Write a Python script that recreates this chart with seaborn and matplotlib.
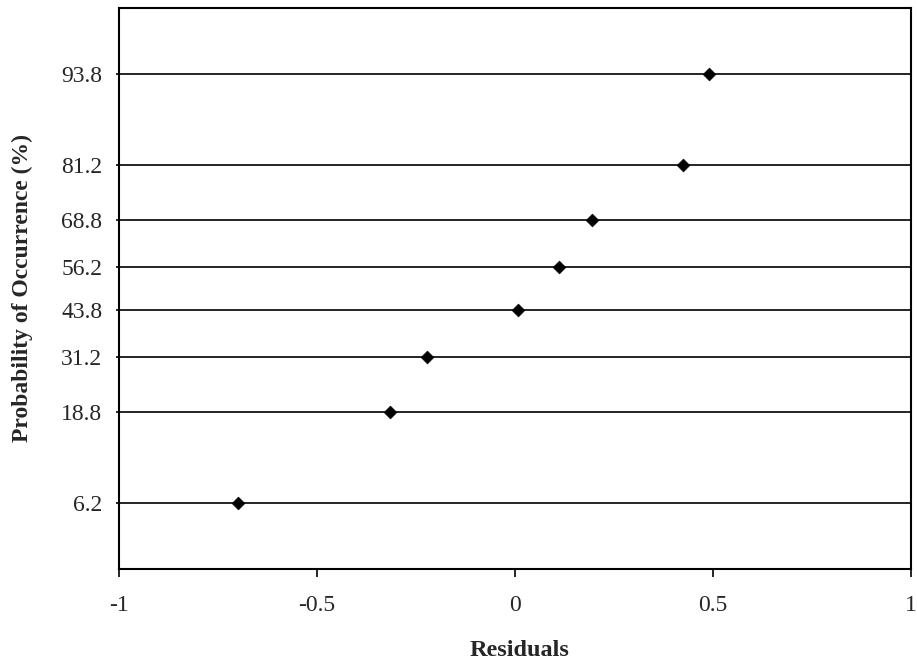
import matplotlib
matplotlib.use("Agg")
import matplotlib.pyplot as plt
import seaborn as sns
import pandas as pd
from statistics import NormalDist

# Data
residuals = [-0.699, -0.316, -0.221, 0.008, 0.111, 0.194, 0.425, 0.491]
probability = [6.2, 18.8, 31.2, 43.8, 56.2, 68.8, 81.2, 93.8]
y_tick_labels = ["6.2", "18.8", "31.2", "43.8", "56.2", "68.8", "81.2", "93.8"]
x_ticks = [-1, -0.5, 0, 0.5, 1]
x_tick_labels = ["-1", "-0.5", "0", "0.5", "1"]

nd = NormalDist()
df = pd.DataFrame({
    "Residuals": residuals,
    "z": [nd.inv_cdf(p / 100.0) for p in probability],
})

sns.set_theme(style="white")
plt.rcParams["font.family"] = ["Liberation Serif", "DejaVu Serif"]

fig = plt.figure(figsize=(9.17, 6.68), dpi=100)
ax = fig.add_axes([119 / 917, 1 - 569 / 668, 792 / 917, 561 / 668])

sns.scatterplot(data=df, x="Residuals", y="z", marker="D", s=42,
                color="black", edgecolor="black", linewidth=0.5, ax=ax, zorder=3)

ax.set_xlim(-1, 1)
ax.set_ylim(-2.013, 2.013)
ax.set_xticks(x_ticks)
ax.set_xticklabels(x_tick_labels)
ax.set_yticks(df["z"])
ax.set_yticklabels(y_tick_labels)

for z in df["z"]:
    ax.axhline(z, color="black", linewidth=1.2, zorder=1)

for s in ax.spines.values():
    s.set_color("black")
    s.set_linewidth(1.5)

ax.tick_params(axis="x", direction="out", length=6, width=1.2, color="black",
               labelsize=17, pad=13, bottom=True)
ax.tick_params(axis="y", direction="out", length=2, width=1.2, color="black",
               labelsize=17, pad=10, left=True)

ax.set_xlabel("Residuals", fontsize=17.5, fontweight="bold")
ax.set_ylabel("Probability of Occurrence (%)", fontsize=17, fontweight="bold")
ax.xaxis.label.set_va("center")
ax.yaxis.label.set_va("center")
ax.xaxis.set_label_coords((519 - 119) / 792, (569 - 651) / 561)
ax.yaxis.set_label_coords((22 - 119) / 792, 0.5)

fig.savefig("out.png", dpi=100)
